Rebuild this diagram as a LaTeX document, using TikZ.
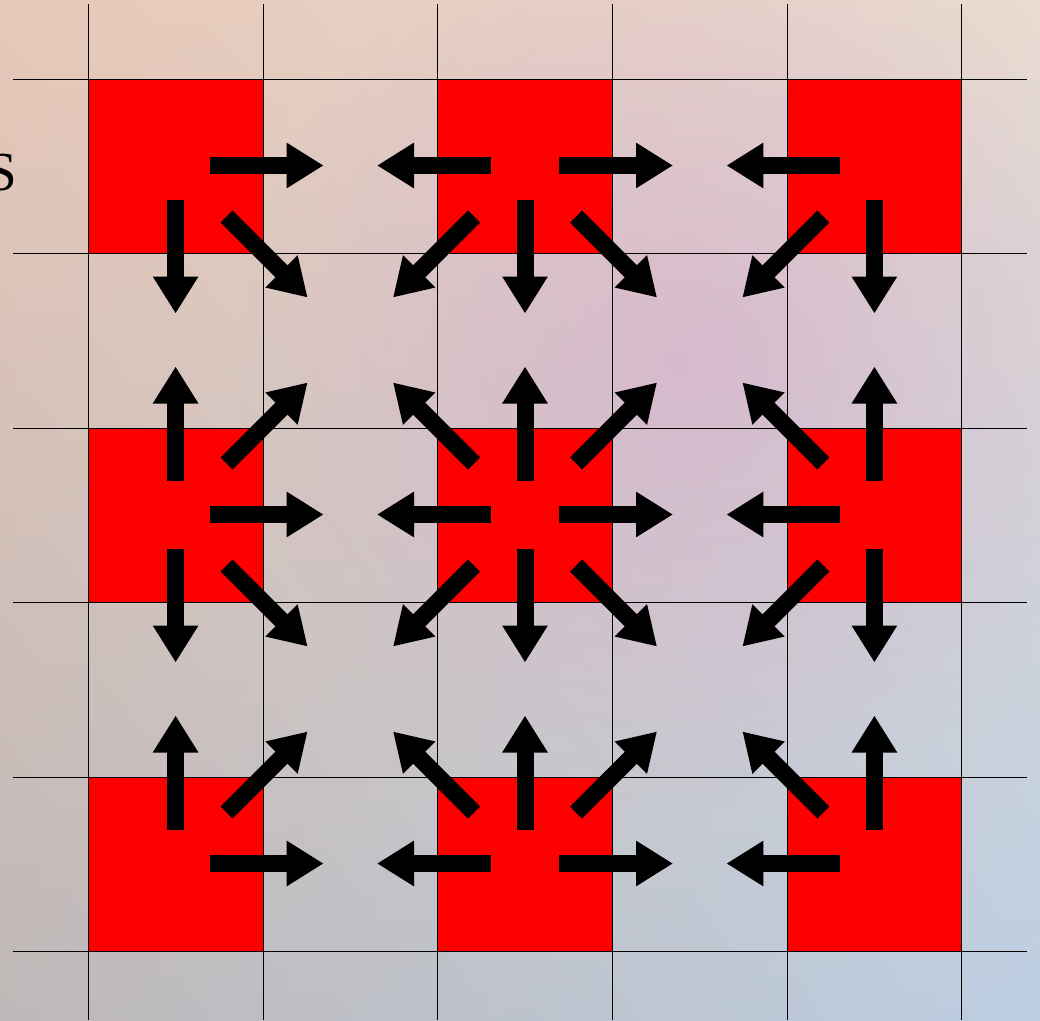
\documentclass[tikz,border=0pt]{standalone}
\usepackage{fontspec}
\setmainfont{Liberation Serif}
\usetikzlibrary{arrows.meta,calc,fadings,shadings}
\tikzfading[name=softfade, inner color=transparent!0, outer color=transparent!100]
\definecolor{bgTL}{RGB}{231,200,184}
\definecolor{bgTR}{RGB}{233,219,209}
\definecolor{bgBL}{RGB}{190,184,184}
\definecolor{bgBR}{RGB}{188,206,226}
\definecolor{blob}{RGB}{212,165,205}
\begin{document}
\begin{tikzpicture}[x=1pt,y=-1pt,
  gridline/.style={black, line width=1pt},
  redcell/.style={fill=red},
  flowarrow/.style={black, line width=17pt, -{Triangle[length=37pt,width=43pt]}}]
\useasboundingbox (0,0) rectangle (1040,1020);
\clip (0,0) rectangle (1040,1020);
% background
\shade[upper left=bgTL, upper right=bgTR, lower left=bgBL, lower right=bgBR] (0,0) rectangle (1040,1020);
\fill[blob, opacity=0.5, path fading=softfade] (690,360) circle (450);
% red cells
\foreach \i in {0,2,4}{
  \foreach \j in {0,2,4}{
    \fill[redcell] ({88.3+174.7*\i},{79+174.5*\j}) rectangle ({88.3+174.7*(\i+1)},{79+174.5*(\j+1)});
  }}
% grid
\foreach \k in {0,...,5}{
  \draw[gridline] ({88.3+174.7*\k},4) -- ({88.3+174.7*\k},1020);
  \draw[gridline] (13,{79+174.5*\k}) -- (1027,{79+174.5*\k});
}
% arrows
\foreach \i in {0,2,4}{
  \foreach \j in {0,2,4}{
    \coordinate (r\i\j) at ({175.6+174.7*\i},{165.5+174.5*\j});
    \foreach \dx/\dy in {1/0,-1/0,0/1,0/-1,1/1,1/-1,-1/1,-1/-1}{
      \pgfmathtruncatemacro\ni{\i+\dx}
      \pgfmathtruncatemacro\nj{\j+\dy}
      \pgfmathtruncatemacro\ok{and(and(\ni>=0,\ni<=4),and(\nj>=0,\nj<=4))}
      \ifnum\ok=1
        \pgfmathsetmacro\s{ifthenelse(\dx*\dy==0,34,51)}
        \pgfmathsetmacro\e{ifthenelse(\dx*\dy==0,148,132)}
        \draw[flowarrow] ($(r\i\j)+(\s*\dx,\s*\dy)$) -- ($(r\i\j)+(\e*\dx,\e*\dy)$);
      \fi
    }
  }}
% letter
\node[anchor=base east, inner sep=0pt, font=\fontsize{55}{60}\selectfont] (s) at (17,190) {S};
\end{tikzpicture}
\end{document}
